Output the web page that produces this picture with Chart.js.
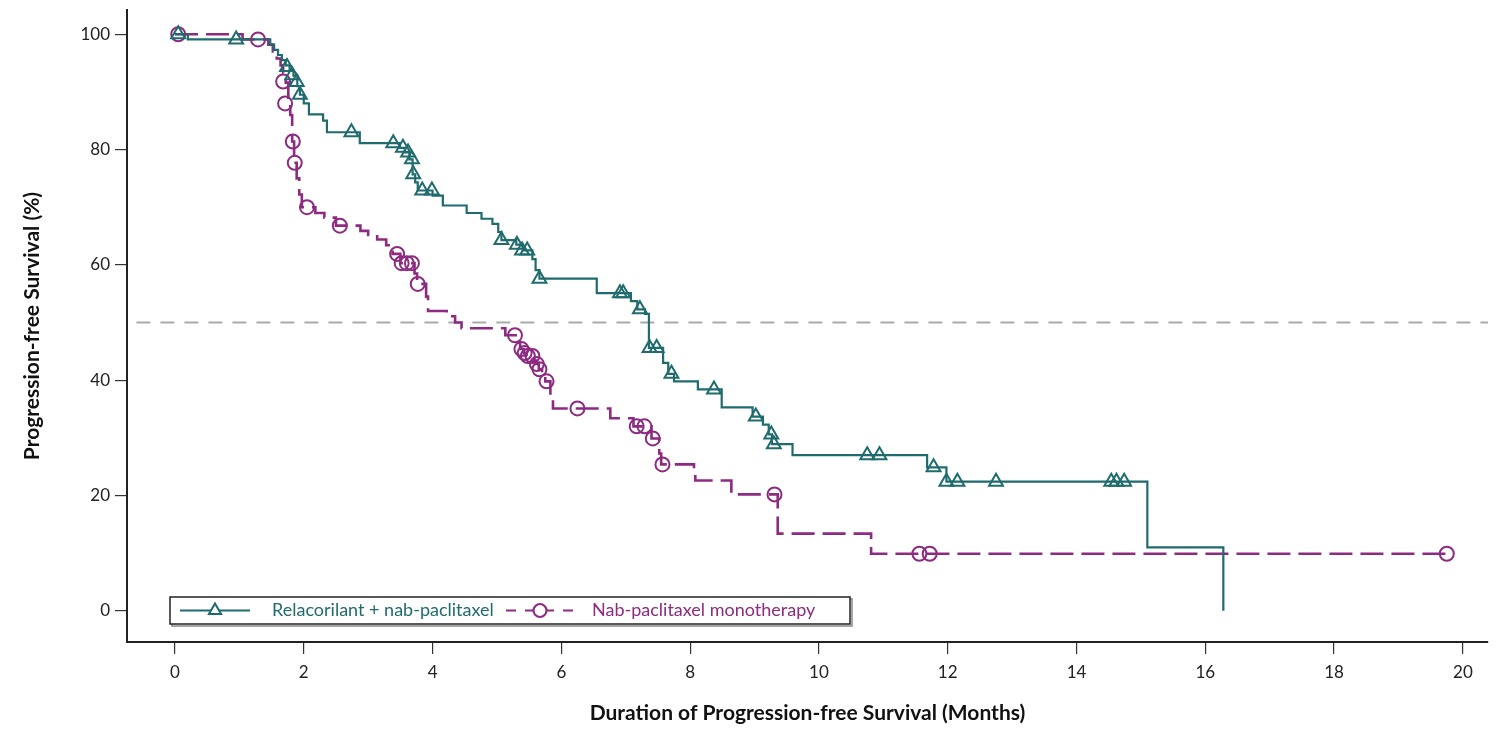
<!DOCTYPE html>
<html>
<head>
<meta charset="utf-8">
<script src="https://cdn.jsdelivr.net/npm/chart.js@4.4.1/dist/chart.umd.min.js"></script>
<style>
  html, body { margin: 0; padding: 0; background: #fff; overflow: hidden; }
  #wrap { width: 1498px; height: 730px; position: relative; }
</style>
</head>
<body>
<div id="wrap"><canvas id="km"></canvas></div>
<script>
// Kaplan-Meier step points (time in months, survival %)
const relaTimes = [0, 0.2, 1.48, 1.54, 1.60, 1.66, 1.72, 1.78, 1.84, 1.90, 1.94, 2.00, 2.08, 2.30, 2.36, 2.87, 3.49, 3.57, 3.64, 3.69, 3.73, 3.77, 4.00, 4.16, 4.53, 4.76, 4.93, 5.02, 5.07, 5.30, 5.40, 5.55, 5.60, 5.66, 6.55, 7.08, 7.18, 7.30, 7.36, 7.58, 7.66, 7.75, 8.12, 8.49, 8.97, 9.13, 9.22, 9.27, 9.59, 11.68, 11.98, 15.10, 16.28];
const relaSurv  = [100, 99.1, 98.2, 97.3, 96.4, 95.5, 94.6, 93.7, 92.8, 91.0, 89.5, 88.0, 86.1, 85.0, 83.0, 81.1, 80.3, 79.5, 78.3, 75.7, 74.3, 72.9, 72.0, 70.3, 69.0, 68.0, 67.1, 65.7, 64.3, 63.5, 62.5, 61.0, 59.1, 57.6, 55.1, 53.7, 52.3, 51.5, 45.6, 43.0, 41.1, 39.8, 38.4, 35.3, 33.7, 32.3, 30.6, 28.9, 27.0, 24.9, 22.4, 11.0, 0];
const relaCensorTimes = [0.05, 0.95, 1.74, 1.82, 1.89, 1.94, 2.74, 3.39, 3.54, 3.62, 3.68, 3.70, 3.84, 3.99, 5.07, 5.31, 5.39, 5.47, 5.66, 6.91, 6.96, 7.22, 7.37, 7.48, 7.71, 8.37, 9.02, 9.26, 9.30, 10.75, 10.94, 11.78, 11.98, 12.15, 12.75, 14.54, 14.62, 14.74];
const relaCensorSurv  = [100, 99.1, 94.3, 92.9, 91.7, 89.5, 83.0, 81.1, 80.3, 79.5, 78.3, 75.7, 72.9, 72.9, 64.3, 63.5, 62.5, 62.5, 57.6, 55.1, 55.1, 52.3, 45.6, 45.6, 41.1, 38.4, 33.7, 30.6, 28.9, 27.0, 27.0, 24.9, 22.4, 22.4, 22.4, 22.4, 22.4, 22.4];

const nabTimes = [0, 1.05, 1.45, 1.52, 1.58, 1.64, 1.68, 1.72, 1.76, 1.79, 1.82, 1.85, 1.89, 1.93, 1.97, 2.18, 2.32, 2.50, 2.88, 3.00, 3.14, 3.28, 3.38, 3.50, 3.72, 3.76, 3.90, 3.93, 4.22, 4.35, 4.45, 5.13, 5.34, 5.36, 5.42, 5.46, 5.58, 5.61, 5.65, 5.70, 5.75, 5.83, 5.87, 6.76, 7.12, 7.40, 7.52, 7.55, 8.06, 8.08, 8.64, 9.36, 10.81, 19.75];
const nabSurv  = [100, 99.1, 98.2, 97.0, 95.8, 94.6, 93.3, 91.6, 88.0, 86.0, 81.4, 77.7, 75.0, 72.2, 70.0, 69.0, 68.2, 66.8, 65.9, 65.2, 64.4, 63.4, 61.9, 60.3, 58.5, 56.7, 54.5, 52.0, 51.1, 50.0, 49.0, 47.8, 46.5, 45.4, 44.7, 44.2, 43.4, 42.8, 41.9, 40.8, 39.8, 36.9, 35.1, 33.4, 32.0, 29.9, 27.3, 25.4, 23.9, 22.6, 20.2, 13.4, 9.9, 9.9];
const nabCensorTimes = [0.05, 1.29, 1.68, 1.71, 1.83, 1.86, 2.05, 2.56, 3.45, 3.52, 3.60, 3.68, 3.77, 5.28, 5.38, 5.43, 5.48, 5.55, 5.62, 5.66, 5.77, 6.25, 7.17, 7.29, 7.42, 7.57, 9.31, 11.56, 11.72, 19.75];
const nabCensorSurv  = [100, 99.1, 91.8, 88.0, 81.4, 77.7, 70.0, 66.8, 61.9, 60.3, 60.3, 60.3, 56.7, 47.8, 45.4, 44.7, 44.2, 44.2, 42.8, 41.9, 39.8, 35.1, 32.0, 32.0, 29.9, 25.4, 20.2, 9.9, 9.9, 9.9];

const medianLevel = 50;
const xTicks = [0, 2, 4, 6, 8, 10, 12, 14, 16, 18, 20];
const yTicks = [0, 20, 40, 60, 80, 100];
const seriesNames = ['Relacorilant + nab-paclitaxel', 'Nab-paclitaxel monotherapy'];

const TEAL = '#1f6b6d';
const PURPLE = '#8d2b80';
const FONT = 'Lato, "DejaVu Sans", sans-serif';

function toPoints(xs, ys) {
  return xs.map((x, i) => ({ x: x, y: ys[i] }));
}

// legend box drawn inside the plot area, bottom left
const kmLegend = {
  id: 'kmLegend',
  afterDraw(chart) {
    const ctx = chart.ctx;
    const x0 = 170, y0 = 597, w = 680, h = 27;
    const cy = y0 + h / 2;
    ctx.save();
    ctx.strokeStyle = '#888';
    ctx.lineWidth = 1.5;
    ctx.strokeRect(x0 + 2, y0 + 2, w, h);
    ctx.fillStyle = '#fff';
    ctx.fillRect(x0, y0, w, h);
    ctx.strokeStyle = '#222';
    ctx.strokeRect(x0, y0, w, h);

    // teal entry
    ctx.strokeStyle = TEAL;
    ctx.lineWidth = 2;
    ctx.beginPath(); ctx.moveTo(180, cy); ctx.lineTo(250, cy); ctx.stroke();
    Chart.helpers.drawPoint(ctx, { pointStyle: 'triangle', radius: 7, borderWidth: 2 }, 215, cy);
    ctx.fillStyle = TEAL;
    ctx.font = '18px ' + FONT;
    ctx.textBaseline = 'middle';
    ctx.fillText(seriesNames[0], 272, cy);

    // purple entry
    ctx.strokeStyle = PURPLE;
    ctx.lineWidth = 2.2;
    ctx.setLineDash([10, 9]);
    ctx.beginPath(); ctx.moveTo(506, cy); ctx.lineTo(582, cy); ctx.stroke();
    ctx.setLineDash([]);
    ctx.beginPath(); ctx.arc(540, cy, 6.5, 0, Math.PI * 2); ctx.fillStyle = '#fff'; ctx.fill(); ctx.stroke();
    ctx.fillStyle = PURPLE;
    ctx.fillText(seriesNames[1], 592, cy);
    ctx.restore();
  }
};

const ctx = document.getElementById('km').getContext('2d');
const chart = new Chart(ctx, {
  type: 'line',
  data: {
    datasets: [
      { label: seriesNames[0] + ' censored', type: 'scatter', data: toPoints(relaCensorTimes, relaCensorSurv), showLine: false, pointStyle: 'triangle', pointRadius: 8, borderWidth: 2, borderColor: TEAL, backgroundColor: 'rgba(0,0,0,0)', order: 0 },
      { label: seriesNames[1] + ' censored', type: 'scatter', data: toPoints(nabCensorTimes, nabCensorSurv), showLine: false, pointStyle: 'circle', pointRadius: 7, borderWidth: 2, borderColor: PURPLE, backgroundColor: 'rgba(0,0,0,0)', order: 0 },
      { label: seriesNames[0], data: toPoints(relaTimes, relaSurv), stepped: 'before', borderColor: TEAL, borderWidth: 2.2, pointRadius: 0, fill: false, order: 1 },
      { label: seriesNames[1], data: toPoints(nabTimes, nabSurv), stepped: 'before', borderColor: PURPLE, borderWidth: 2.6, borderDash: [23, 8], pointRadius: 0, fill: false, order: 1 },
      { label: 'Median', data: [{ x: -0.6, y: medianLevel }, { x: 20.5, y: medianLevel }], borderColor: '#aaaaaa', borderWidth: 2, borderDash: [14, 10], pointRadius: 0, fill: false, order: 2 }
    ]
  },
  options: {
    responsive: true,
    maintainAspectRatio: false,
    animation: false,
    layout: { padding: { top: 10, right: 0, left: 0, bottom: 0 } },
    plugins: { legend: { display: false }, tooltip: { enabled: false } },
    scales: {
      x: {
        type: 'linear',
        min: -0.745,
        max: 20.39,
        afterFit: (s) => { s.height = 88; s.paddingLeft = 0; s.paddingRight = 0; },
        afterBuildTicks: (s) => { s.ticks = xTicks.map(v => ({ value: v })); },
        grid: { display: true, drawOnChartArea: false, drawTicks: true, tickLength: 12, color: '#333', lineWidth: 1.2 },
        border: { display: true, color: '#222', width: 2 },
        ticks: { color: '#222', font: { family: FONT, size: 17 }, padding: 8, maxRotation: 0, autoSkip: false },
        title: { display: true, text: 'Duration of Progression-free Survival (Months)', color: '#111', font: { family: FONT, size: 21, weight: 'bold' }, padding: { top: 0, bottom: 4 } }
      },
      y: {
        type: 'linear',
        min: -5.4,
        max: 104.2,
        afterFit: (s) => { s.width = 127; s.paddingTop = 0; s.paddingBottom = 0; },
        afterBuildTicks: (s) => { s.ticks = yTicks.map(v => ({ value: v })); },
        grid: { display: true, drawOnChartArea: false, drawTicks: true, tickLength: 12, color: '#333', lineWidth: 1.2 },
        border: { display: true, color: '#222', width: 2 },
        ticks: { color: '#222', font: { family: FONT, size: 17 }, padding: 5 },
        title: { display: true, text: 'Progression-free Survival (%)', color: '#111', font: { family: FONT, size: 21, weight: 'bold' }, padding: { top: 20, bottom: 0 } }
      }
    }
  },
  plugins: [kmLegend]
});
</script>
</body>
</html>
